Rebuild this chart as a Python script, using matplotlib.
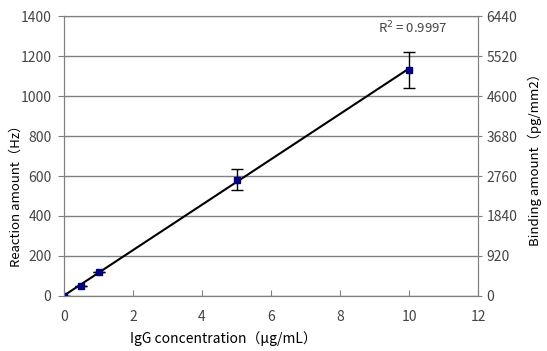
import matplotlib

matplotlib.use("Agg")
import matplotlib.pyplot as plt
import numpy as np

plt.rcParams["font.family"] = ["Noto Sans CJK JP", "DejaVu Sans"]

# ---- data ------------------------------------------------------------------
conc_ug_ml = [0, 0.5, 1, 5, 10]
reaction_hz = [0, 50, 120, 582, 1132]
reaction_err = [0, 0, 0, 52, 90]
x_ticks = [0, 2, 4, 6, 8, 10, 12]
y_ticks = [0, 200, 400, 600, 800, 1000, 1200, 1400]
binding_ticks = [0, 920, 1840, 2760, 3680, 4600, 5520, 6440]
r_squared = "0.9997"

TEXT = "#444444"
GRID = "#808080"

fig = plt.figure(figsize=(5.47, 3.51), dpi=100)
ax = fig.add_axes([0.117, 0.157, 0.757, 0.797])

# linear fit drawn across the measured range
coef = np.polyfit(conc_ug_ml, reaction_hz, 1)
fit_x = np.array([min(conc_ug_ml), max(conc_ug_ml)])
ax.plot(fit_x, np.polyval(coef, fit_x), color="black", lw=1.5, zorder=3)

ax.errorbar(
    conc_ug_ml, reaction_hz, yerr=reaction_err,
    fmt="s", color="#000080", ms=5, ecolor="black", elinewidth=1,
    capsize=4, capthick=1, zorder=4,
)

ax.set_xlim(0, 12)
ax.set_ylim(0, 1400)
ax.set_xticks(x_ticks)
ax.set_yticks(y_ticks)
ax.grid(axis="y", color=GRID, lw=1)
ax.set_axisbelow(True)
for s in ax.spines.values():
    s.set_color(GRID)
ax.tick_params(axis="x", direction="in", length=4, color=GRID, labelsize=10,
               labelcolor=TEXT, pad=10)
ax.tick_params(axis="y", direction="out", length=4, color=GRID, labelsize=10,
               labelcolor=TEXT, pad=5)

ax.set_xlabel("IgG concentration（μg/mL）", fontsize=10, color="black", va="top")
ax.xaxis.set_label_coords(0.385, -0.125)
ax.set_ylabel("Reaction amount（Hz）", fontsize=9.5, color="black")
ax.yaxis.set_label_coords(-0.099, 0.37)

ax2 = ax.twinx()
ax2.set_ylim(0, 6440)
ax2.set_yticks(binding_ticks)
ax2.tick_params(axis="y", direction="out", length=3, color=GRID, labelsize=10,
                labelcolor=TEXT, pad=3)
for s in ax2.spines.values():
    s.set_color(GRID)
ax2.set_ylabel("Binding amount（pg/mm2）", fontsize=9.5, color="black")
ax2.yaxis.set_label_coords(1.121, 0.5)

ax.text(10.1, 1340, f"R$^2$ = {r_squared}", fontsize=9.5, color=TEXT,
        ha="center", va="center")

fig.savefig("out.png", dpi=100)
